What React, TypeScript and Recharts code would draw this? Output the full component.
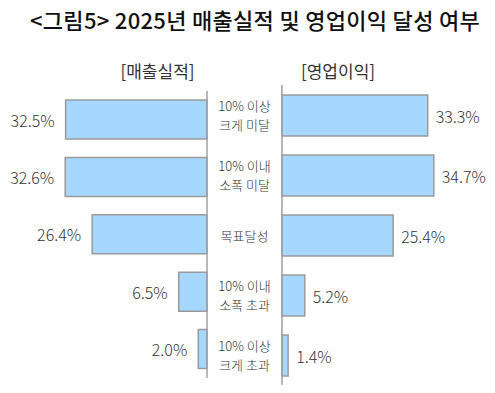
import React from 'react';
import { BarChart, Bar, XAxis, YAxis, LabelList } from 'recharts';

const categories = ['10% 이상\n크게 미달', '10% 이내\n소폭 미달', '목표달성', '10% 이내\n소폭 초과', '10% 이상\n크게 초과'];
const salesValues = [32.5, 32.6, 26.4, 6.5, 2.0];
const profitValues = [33.3, 34.7, 25.4, 5.2, 1.4];

const title = '<그림5> 2025년 매출실적 및 영업이익 달성 여부';
const salesTitle = '[매출실적]';
const profitTitle = '[영업이익]';

const data = categories.map((category, i) => ({
  category,
  sales: salesValues[i],
  profit: profitValues[i],
}));

const FONT = "'Noto Sans CJK KR', 'Noto Sans', sans-serif";
const BAR_FILL = '#a6d8ff';
const BAR_STROKE = '#9a9a9a';
const AXIS_STROKE = '#a0a0a0';
const TEXT = '#333333';

const leftLabel = (props: any) => {
  const { x, y, width, height, value } = props;
  const outer = Math.min(x, x + width);
  return (
    <text x={outer - 11} y={y + height / 2} textAnchor="end" dominantBaseline="central"
      fontSize={16} fontWeight={300} fill={TEXT} fontFamily={FONT}>
      {`${Number(value).toFixed(1)}%`}
    </text>
  );
};

const rightLabel = (props: any) => {
  const { x, y, width, height, value } = props;
  const outer = Math.max(x, x + width);
  return (
    <text x={outer + 8} y={y + height / 2} textAnchor="start" dominantBaseline="central"
      fontSize={16} fontWeight={300} fill={TEXT} fontFamily={FONT}>
      {`${Number(value).toFixed(1)}%`}
    </text>
  );
};

const CategoryTick = (props: any) => {
  const { x, y, payload } = props;
  const lines = String(payload.value).split('\n');
  const lh = 19;
  const start = y - ((lines.length - 1) * lh) / 2;
  return (
    <g>
      {lines.map((line, i) => (
        <text key={i} x={x - 37.5} y={start + i * lh} textAnchor="middle" dominantBaseline="central"
          fontSize={13} fontWeight={300} fill={TEXT} fontFamily={FONT}>
          {line}
        </text>
      ))}
    </g>
  );
};

export default function App() {
  return (
    <div style={{ position: 'absolute', left: 0, top: 0, width: 495, height: 393, background: '#fff', fontFamily: FONT }}>
      <svg width={495} height={393} style={{ position: 'absolute', left: 0, top: 0 }}>
        <text x={255} y={19} textAnchor="middle" dominantBaseline="central" fontSize={22} letterSpacing={0.3} fontWeight={500} fill="#111" fontFamily={FONT}>
          {title}
        </text>
        <text x={157.5} y={70} textAnchor="middle" dominantBaseline="central" fontSize={17} fill={TEXT} fontFamily={FONT}>
          {salesTitle}
        </text>
        <text x={338} y={70} textAnchor="middle" dominantBaseline="central" fontSize={17} fill={TEXT} fontFamily={FONT}>
          {profitTitle}
        </text>
      </svg>

      <div style={{ position: 'absolute', left: 0, top: 0 }}>
        <BarChart layout="vertical" width={216} height={393} data={data}
          margin={{ top: 91, right: 8, bottom: 15, left: 33 }}>
          <XAxis type="number" domain={[0, 40]} reversed hide />
          <YAxis type="category" dataKey="category" orientation="right" width={1}
            tick={false} tickLine={false} axisLine={{ stroke: AXIS_STROKE, strokeWidth: 1.5 }} />
          <Bar dataKey="sales" fill={BAR_FILL} stroke={BAR_STROKE} strokeWidth={1.5} barSize={39} isAnimationActive={false}>
            <LabelList dataKey="sales" content={leftLabel} />
          </Bar>
        </BarChart>
      </div>

      <div style={{ position: 'absolute', left: 200, top: 0 }}>
        <BarChart layout="vertical" width={295} height={393} data={data}
          margin={{ top: 85, right: 38, bottom: 8, left: 81 }}>
          <XAxis type="number" domain={[0, 40]} hide />
          <YAxis type="category" dataKey="category" width={1} tickSize={0} tickMargin={0}
            tickLine={false} tick={<CategoryTick />} axisLine={{ stroke: AXIS_STROKE, strokeWidth: 1.5 }} />
          <Bar dataKey="profit" fill={BAR_FILL} stroke={BAR_STROKE} strokeWidth={1.5} barSize={41} isAnimationActive={false}>
            <LabelList dataKey="profit" content={rightLabel} />
          </Bar>
        </BarChart>
      </div>
    </div>
  );
}
